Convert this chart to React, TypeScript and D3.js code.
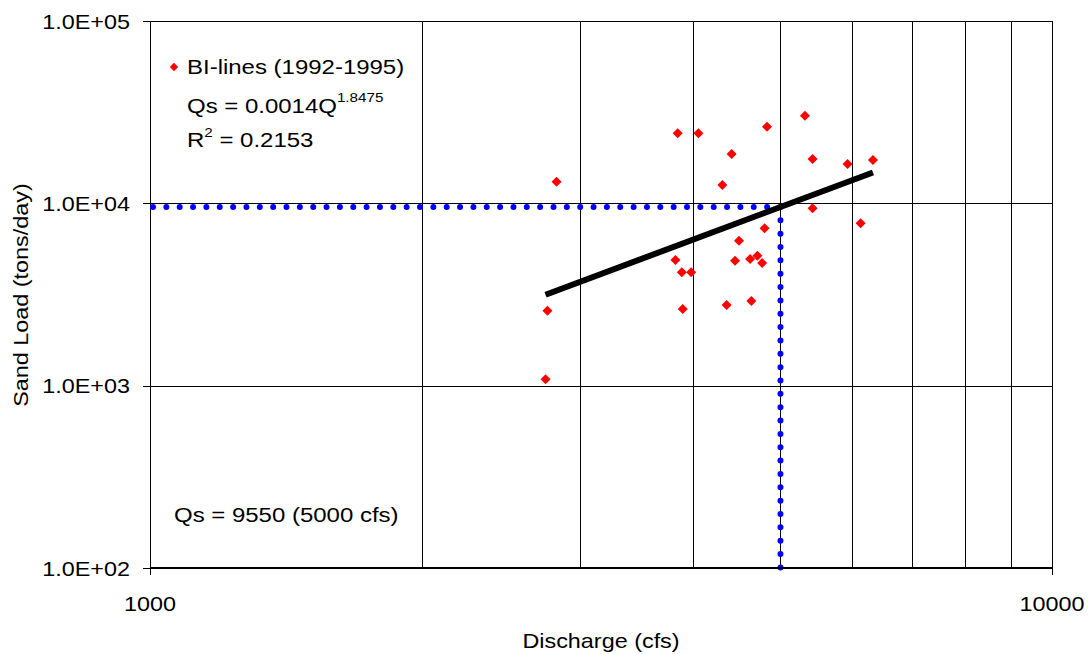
import React from "react";
import * as d3 from "d3";

// Discharge (cfs) and measured sand load (tons/day) for the BI-lines, 1992-1995
const discharge = [2745, 2758, 2823, 3824, 3887, 3981, 3896, 3846, 4055, 5322, 4831, 4414, 5427, 5934, 6331, 4311, 5427, 6135, 4801, 4498, 4453, 4627, 4714, 4771, 4358, 4642];
const sandLoad = [1086, 2576, 13140, 4887, 4183, 4183, 2631, 24210, 24210, 30240, 26310, 18640, 17500, 16430, 17280, 12600, 9388, 7769, 7294, 6233, 4843, 4949, 5159, 4704, 2768, 2911];

// Power-law fit Qs = a * Q^b
const fitCoef = 0.0014;
const fitExp = 1.8475;
const fitR2 = 0.2153;

// Reference discharge and the load read from the fit
const refQ = 5000;
const refQs = 9550;

const yTickValues = [100, 1000, 10000, 100000];
const yTickLabels = ["1.0E+02", "1.0E+03", "1.0E+04", "1.0E+05"];
const xTickValues = [1000, 10000];
const xTickLabels = ["1000", "10000"];
const xGridValues = [2000, 3000, 4000, 5000, 6000, 7000, 8000, 9000, 10000];
const yGridValues = [1000, 10000];

const W = 1090;
const H = 654;
const left = 150;
const right = 1052;
const top = 21;
const bottom = 568;
const FONT = "'Liberation Sans', Arial, sans-serif";
const SX = 1.17;

function T({ x, y, anchor = "start", size = 20, rotate = 0, children }: any) {
  return (
    <text
      transform={`translate(${x},${y}) rotate(${rotate}) scale(${SX},1)`}
      textAnchor={anchor}
      fontFamily={FONT}
      fontSize={size}
      fill="#000"
    >
      {children}
    </text>
  );
}

function diamond(r: number) {
  return `M0,${-r}L${r},0L0,${r}L${-r},0Z`;
}

export default function App() {
  const x = d3.scaleLog().domain([1000, 10000]).range([left, right]);
  const y = d3.scaleLog().domain([100, 100000]).range([bottom, top]);

  const qMin = d3.min(discharge) as number;
  const qMax = d3.max(discharge) as number;
  const fitPts: [number, number][] = [qMin, qMax].map((q) => [x(q), y(fitCoef * Math.pow(q, fitExp))]);
  const fitLine = d3.line()(fitPts) as string;

  const px = (v: number) => Math.round(x(v)) + 0.5;
  const py = (v: number) => Math.round(y(v)) + 0.5;

  return (
    <svg width={W} height={H} style={{ position: "absolute", left: 0, top: 0, background: "#fff" }}>
      {/* grid */}
      {xGridValues.map((v) => (
        <line key={"gx" + v} x1={px(v)} x2={px(v)} y1={top} y2={bottom} stroke="#000" strokeWidth={1} />
      ))}
      {yGridValues.map((v) => (
        <line key={"gy" + v} x1={left} x2={right} y1={py(v)} y2={py(v)} stroke="#000" strokeWidth={1} />
      ))}
      <line x1={left} x2={right} y1={py(100000)} y2={py(100000)} stroke="#000" strokeWidth={1} />

      {/* axes */}
      <line x1={px(1000)} x2={px(1000)} y1={top} y2={bottom} stroke="#000" strokeWidth={1} />
      {yTickValues.map((v, i) => (
        <g key={"yt" + v}>
          <line x1={left - 7} x2={left} y1={py(v)} y2={py(v)} stroke="#000" strokeWidth={1} />
          <T x={130} y={y(v) + 7.5} anchor="end">{yTickLabels[i]}</T>
        </g>
      ))}
      {xTickValues.map((v, i) => (
        <g key={"xt" + v}>
          <line x1={px(v)} x2={px(v)} y1={bottom} y2={bottom + 7} stroke="#000" strokeWidth={1} />
          <T x={x(v)} y={610.5} anchor="middle">{xTickLabels[i]}</T>
        </g>
      ))}

      {/* reference lines at Q = 5000 cfs */}
      <path
        d={`M${left + 3},${y(refQs)}L${x(refQ)},${y(refQs)}L${x(refQ)},${bottom}`}
        fill="none"
        stroke="#0000ff"
        strokeWidth={6}
        strokeLinecap="round"
        strokeDasharray="0 13.35"
      />

      {/* fitted power law */}
      <path d={fitLine} fill="none" stroke="#000" strokeWidth={6} />

      <line x1={left} x2={right} y1={bottom} y2={bottom} stroke="#000" strokeWidth={2} />

      {/* observations */}
      {discharge.map((q, i) => (
        <path key={"p" + i} d={diamond(5)} transform={`translate(${x(q)},${y(sandLoad[i])})`} fill="#ff0000" />
      ))}

      {/* legend and equation */}
      <path d={diamond(4.2)} transform="translate(174,67)" fill="#ff0000" />
      <T x={187} y={74} size={20.5}>BI-lines (1992-1995)</T>
      <T x={187} y={113.3} size={20.5}>
        {`Qs = ${fitCoef}Q`}
        <tspan fontSize={13} dy={-11}>{fitExp}</tspan>
      </T>
      <T x={187} y={146.7} size={20.5}>
        R<tspan fontSize={13} dy={-10}>2</tspan>
        <tspan dy={10}>{` = ${fitR2}`}</tspan>
      </T>
      <T x={174} y={521.7} size={20.5}>{`Qs = ${refQs} (${refQ} cfs)`}</T>

      {/* axis titles */}
      <T x={601} y={648} anchor="middle">Discharge (cfs)</T>
      <T x={28} y={295} anchor="middle" rotate={-90}>Sand Load (tons/day)</T>
    </svg>
  );
}
